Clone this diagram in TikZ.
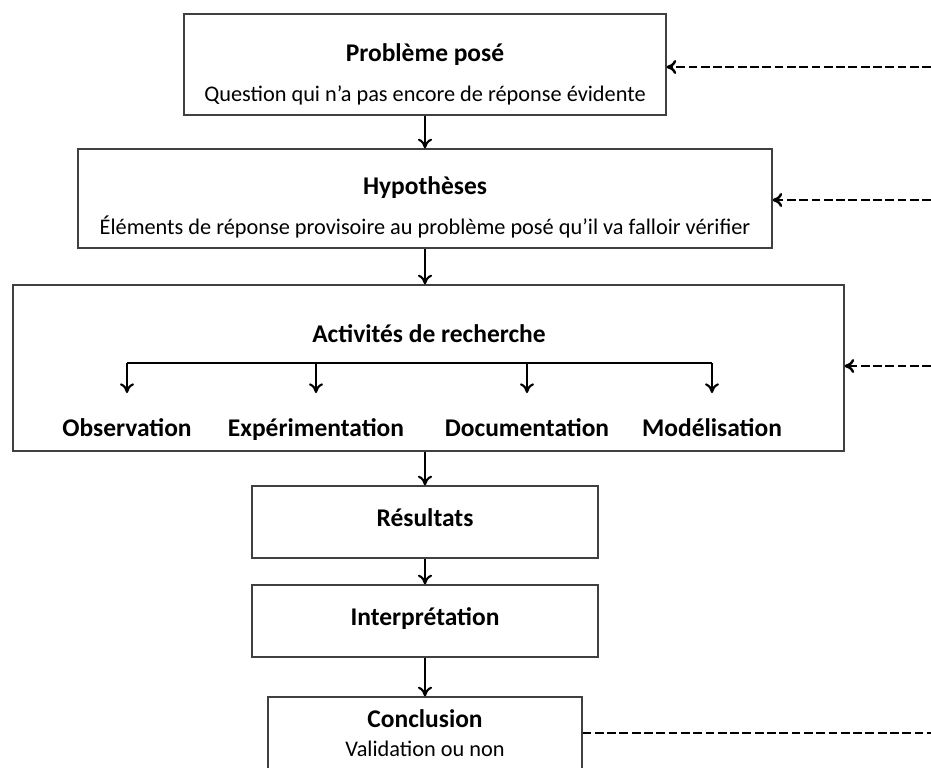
\documentclass[tikz,border=0pt]{standalone}
\usepackage{fontspec}
\setmainfont{Carlito}
\usetikzlibrary{arrows.meta, positioning}

\tikzset{
    box/.style={draw=black!75, line width=0.7pt, fill=white, inner sep=0pt},
    title/.style={font=\bfseries\fontsize{14.5}{17}\selectfont, text height=0.75em, text depth=0.22em},
    sub/.style={font=\fontsize{12.7}{15}\selectfont, text height=0.75em, text depth=0.22em},
    tip/.style={-{To[length=5.5pt,width=8pt]}},
    flow/.style={line width=1.2pt, tip},
    back/.style={line width=1.4pt, dash pattern=on 5pt off 2pt},
}

\begin{document}
\begin{tikzpicture}[x=0.02cm, y=-0.02cm]
        \useasboundingbox (0,0) rectangle (931,768);
        \clip (0,0) rectangle (931,768);

        % boxes
        \node [box, minimum width=9.64cm, minimum height=2.02cm] (Pb) at (425, 64.5) {};
        \node [title] (PbT) at (425, 57) {Problème posé};
        \node [sub] (PbS) at (425, 97) {Question qui n’a pas encore de réponse évidente};

        \node [box, minimum width=13.88cm, minimum height=1.98cm] (Hyp) at (425, 198.5) {};
        \node [title] (HypT) at (425, 190) {Hypothèses};
        \node [sub] (HypS) at (425, 230) {Éléments de réponse provisoire au problème posé qu’il va falloir vérifier};

        \node [box, minimum width=16.62cm, minimum height=3.32cm] (Act) at (428.5, 368) {};
        \node [title] (ActT) at (429, 338) {Activités de recherche};
        \node [title] (Obs) at (127, 432) {Observation};
        \node [title] (Exp) at (316, 432) {Expérimentation};
        \node [title] (Doc) at (527, 432) {Documentation};
        \node [title] (Mod) at (712, 432) {Modélisation};

        \node [box, title, minimum width=6.92cm, minimum height=1.44cm] (Res) at (425, 522) {Résultats};
        \node [box, title, minimum width=6.92cm, minimum height=1.44cm] (Int) at (425, 621) {Interprétation};

        \node [box, minimum width=6.28cm, minimum height=1.9cm] (Conc) at (425, 744.5) {};
        \node [title] (ConcT) at (425, 723) {Conclusion};
        \node [sub] (ConcS) at (425, 752) {Validation ou non};

        % main flow
        \draw [flow] (Pb.south) -- (Hyp.north);
        \draw [flow] (Hyp.south) -- (Hyp.south |- Act.north);
        \draw [flow] (Hyp.south |- Act.south) -- (Res.north);
        \draw [flow] (Res.south) -- (Int.north);
        \draw [flow] (Int.south) -- (Conc.north);

        % split into activities
        \coordinate (Bar) at (0, 363);
        \draw [line width=1.2pt] (Obs.north |- Bar) -- (Mod.north |- Bar);
        \foreach \n in {Obs, Exp, Doc, Mod}
            \draw [flow] (\n.north |- Bar) -- ++(0, 30);

        % feedback loop
        \coordinate (Edge) at (931, 0);
        \draw [back, tip] (Edge |- 0,67) -- (Pb.east |- 0,67);
        \draw [back, tip] (Edge |- 0,200) -- (Hyp.east |- 0,200);
        \draw [back, tip] (Edge |- 0,366) -- (Act.east |- 0,366);
        \draw [back] (Conc.east |- 0,733) -- (Edge |- 0,733);
\end{tikzpicture}
\end{document}
